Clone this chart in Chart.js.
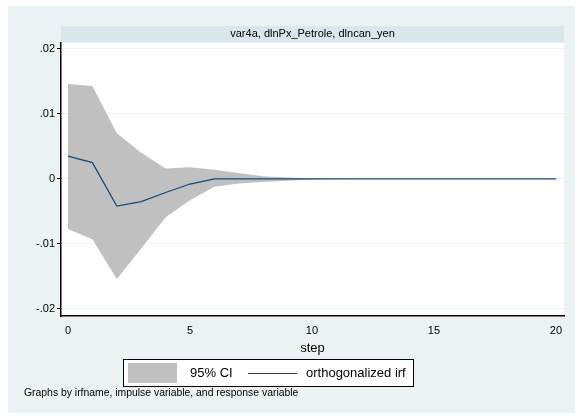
<!DOCTYPE html>
<html>
<head>
<meta charset="utf-8">
<script src="https://cdn.jsdelivr.net/npm/chart.js@4/dist/chart.umd.min.js"></script>
<style>
  html, body { margin: 0; padding: 0; background: #fff; }
  #wrap { position: relative; width: 577px; height: 419px; }
</style>
</head>
<body>
<div id="wrap"><canvas id="irf" width="577" height="419"></canvas></div>
<script>
// impulse response, dlnPx_Petrole -> dlncan_yen, steps 0..20
const steps = [0,1,2,3,4,5,6,7,8,9,10,11,12,13,14,15,16,17,18,19,20];
const oirf  = [0.0035, 0.0025, -0.0042, -0.0035, -0.0021, -0.0008, 0.0000, 0.0000, 0.0000, 0.0000, 0.0000,
               0, 0, 0, 0, 0, 0, 0, 0, 0, 0];
const ciUpper = [0.0146, 0.0143, 0.0070, 0.0040, 0.0016, 0.0018, 0.0014, 0.0009, 0.0004, 0.0002, 0.0001,
                 0.00003, 0, 0, 0, 0, 0, 0, 0, 0, 0];
const ciLower = [-0.0077, -0.0093, -0.0154, -0.0107, -0.0059, -0.0033, -0.0012, -0.0007, -0.0005, -0.0003, -0.0001,
                 -0.00003, 0, 0, 0, 0, 0, 0, 0, 0, 0];
const xTicks = [0, 5, 10, 15, 20];
const yTicks = [-0.02, -0.01, 0, 0.01, 0.02];
const yTickLabels = ['-.02', '-.01', '0', '.01', '.02'];

const panelTitle = 'var4a, dlnPx_Petrole, dlncan_yen';
const xTitle = 'step';
const legendCI = '95% CI';
const legendLine = 'orthogonalized irf';
const noteText = 'Graphs by irfname, impulse variable, and response variable';

const FONT = "'Liberation Sans', Arial, Helvetica, sans-serif";
const BG = '#eaf2f3';
const STRIP = '#d9e6eb';
const BAND = '#c0c0c0';
const NAVY = '#1a476f';

const pts = arr => arr.map((v, i) => ({ x: steps[i], y: v }));

// stata-ish frame: outer background, header strip, x title, legend and note
const framePlugin = {
  id: 'frame',
  beforeDraw(chart) {
    const { ctx, chartArea: a } = chart;
    ctx.save();
    ctx.fillStyle = BG;
    ctx.fillRect(8, 6, 567, 407);
    ctx.fillStyle = '#fff';
    ctx.fillRect(a.left, a.top, a.right - a.left, a.bottom - a.top);
    ctx.fillStyle = STRIP;
    ctx.fillRect(a.left, 26, a.right - a.left, 16);
    ctx.fillStyle = '#000';
    ctx.font = '11px ' + FONT;
    ctx.textAlign = 'center';
    ctx.textBaseline = 'middle';
    ctx.fillText(panelTitle, (a.left + a.right) / 2, 34);
    ctx.restore();
  },
  afterDraw(chart) {
    const { ctx, chartArea: a } = chart;
    ctx.save();
    ctx.fillStyle = '#000';
    ctx.textBaseline = 'middle';
    ctx.textAlign = 'center';
    ctx.font = '13px ' + FONT;
    ctx.fillText(xTitle, (a.left + a.right) / 2, 348);

    // legend box
    ctx.fillStyle = '#fff';
    ctx.fillRect(123, 359, 291, 28);
    ctx.strokeStyle = '#000';
    ctx.lineWidth = 1;
    ctx.strokeRect(123.5, 359.5, 290, 27);
    ctx.fillStyle = BAND;
    ctx.fillRect(128, 363, 49, 20);
    ctx.strokeStyle = NAVY;
    ctx.beginPath();
    ctx.moveTo(248, 373.5);
    ctx.lineTo(297, 373.5);
    ctx.stroke();
    ctx.fillStyle = '#000';
    ctx.textAlign = 'left';
    ctx.font = '13px ' + FONT;
    ctx.fillText(legendCI, 190, 373);
    ctx.fillText(legendLine, 306, 373);

    ctx.font = '10.4px ' + FONT;
    ctx.fillText(noteText, 24, 393);
    ctx.restore();
  }
};

new Chart(document.getElementById('irf'), {
  type: 'line',
  data: {
    datasets: [
      { label: 'ci_upper', data: pts(ciUpper), borderWidth: 0, pointRadius: 0,
        backgroundColor: BAND, borderColor: BAND, fill: '+1', order: 2 },
      { label: 'ci_lower', data: pts(ciLower), borderWidth: 0, pointRadius: 0,
        backgroundColor: BAND, borderColor: BAND, fill: false, order: 2 },
      { label: 'oirf', data: pts(oirf), borderColor: NAVY, borderWidth: 1.2, pointRadius: 0,
        fill: false, order: 1 }
    ]
  },
  options: {
    responsive: false,
    animation: false,
    events: [],
    layout: { padding: { left: 0, right: 13, top: 43, bottom: 0 } },
    plugins: { legend: { display: false }, tooltip: { enabled: false } },
    scales: {
      x: {
        type: 'linear',
        min: -0.287, max: 20.33,
        afterFit: s => { s.height = 103; },
        afterBuildTicks: s => { s.ticks = xTicks.map(v => ({ value: v })); },
        grid: { display: false, drawOnChartArea: false, drawTicks: true, tickLength: 5, tickColor: '#000', tickWidth: 1 },
        border: { display: true, color: '#000', width: 1.5 },
        ticks: { color: '#000', font: { family: FONT, size: 11 }, padding: 3, maxRotation: 0 }
      },
      y: {
        type: 'linear',
        min: -0.0211, max: 0.0209,
        afterFit: s => { s.width = 61; },
        afterBuildTicks: s => { s.ticks = yTicks.map(v => ({ value: v })); },
        grid: { color: '#edf3f4', lineWidth: 1, drawTicks: true, tickLength: 4, tickColor: '#000', tickWidth: 1 },
        border: { display: true, color: '#000', width: 1.5 },
        ticks: {
          color: '#000', font: { family: FONT, size: 11 }, padding: 2,
          callback: v => yTickLabels[yTicks.indexOf(v)] ?? ''
        }
      }
    }
  },
  plugins: [framePlugin]
});
</script>
</body>
</html>
